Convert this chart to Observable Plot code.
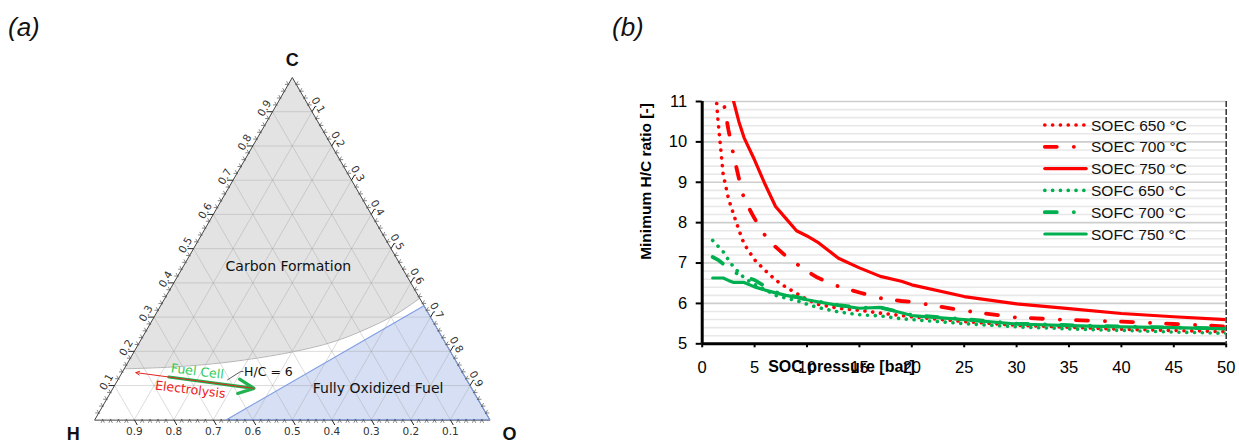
<!DOCTYPE html>
<html>
<head>
<meta charset="utf-8">
<script src="https://cdn.jsdelivr.net/npm/d3@7"></script>
<script src="https://cdn.jsdelivr.net/npm/@observablehq/plot@0.6"></script>
<style>
  html, body { margin:0; padding:0; background:#fff; }
  #page { position:relative; width:1239px; height:443px; overflow:hidden; background:#fff; }
  .panel { position:absolute; top:0; }
  .tag { position:absolute; font-family:"Liberation Sans", Arial, sans-serif; font-style:italic; font-size:26px; line-height:26px; color:#111; }
  #legend { position:absolute; left:1040px; top:110px; }
</style>
</head>
<body>
<div id="page">
  <div class="tag" style="left:8px; top:14px;">(a)</div>
  <div class="tag" style="left:612px; top:14px;">(b)</div>
  <div id="panelA" class="panel" style="left:0px;"></div>
  <div id="panelB" class="panel" style="left:600px;"></div>
  <div id="legend"></div>
</div>
<script>
// ================= DATA: panel (b) =================
const pressure = [1, 1.5, 2, 2.5, 3, 3.5, 4, 5, 6, 7, 8, 9, 10, 11, 13, 15, 17, 19, 20, 25, 30, 35, 40, 45, 50];
const soec650 = [12.3, 10.55, 9.2, 8.6, 8.2, 7.82, 7.47, 7.08, 6.82, 6.58, 6.4, 6.25, 6.1, 5.98, 5.88, 5.83, 5.76, 5.7, 5.67, 5.55, 5.46, 5.41, 5.36, 5.33, 5.3];
const soec700 = [13.8, 12.3, 11.05, 10.3, 9.66, 9.1, 8.58, 8.1, 7.68, 7.4, 7.17, 6.98, 6.8, 6.64, 6.42, 6.27, 6.13, 6.06, 6.04, 5.82, 5.65, 5.59, 5.55, 5.49, 5.43];
const soec750 = [16, 14.5, 13, 11.9, 11.0, 10.5, 10.1, 9.55, 8.95, 8.4, 8.1, 7.8, 7.67, 7.52, 7.12, 6.88, 6.67, 6.55, 6.46, 6.17, 5.99, 5.87, 5.75, 5.67, 5.6];
const sofc650 = [7.56, 7.42, 7.28, 7.08, 6.9, 6.77, 6.63, 6.47, 6.34, 6.2, 6.13, 6.07, 5.98, 5.9, 5.79, 5.72, 5.69, 5.62, 5.6, 5.5, 5.42, 5.37, 5.33, 5.29, 5.26];
const sofc700 = [7.15, 7.08, 6.98, 6.88, 6.78, 6.72, 6.66, 6.58, 6.42, 6.28, 6.21, 6.16, 6.1, 6.05, 5.96, 5.89, 5.9, 5.78, 5.71, 5.61, 5.5, 5.46, 5.43, 5.4, 5.38];
const sofc750 = [6.63, 6.63, 6.63, 6.57, 6.52, 6.52, 6.52, 6.41, 6.33, 6.26, 6.2, 6.15, 6.09, 6.04, 5.95, 5.88, 5.9, 5.77, 5.7, 5.6, 5.49, 5.45, 5.42, 5.4, 5.37];
const seriesNames = ["SOEC 650 °C", "SOEC 700 °C", "SOEC 750 °C", "SOFC 650 °C", "SOFC 700 °C", "SOFC 750 °C"];
const seriesValues = [soec650, soec700, soec750, sofc650, sofc700, sofc750];
const yTicks = [5, 6, 7, 8, 9, 10, 11];
const xTicks = [0, 5, 10, 15, 20, 25, 30, 35, 40, 45, 50];
const xTitle = "SOC pressure [bar]";
const yTitle = "Minimum H/C ratio [-]";

// ================= DATA: panel (a) =================
const ternaryTicks = [0.1, 0.2, 0.3, 0.4, 0.5, 0.6, 0.7, 0.8, 0.9];
const carbonBoundaryO = [0.0, 0.115, 0.25, 0.4, 0.49, 0.554, 0.61, 0.645];
const carbonBoundaryC = [0.149, 0.154, 0.168, 0.198, 0.228, 0.265, 0.31, 0.355];
const oxidizedH = [2/3, 0, 0];
const oxidizedC = [0, 1/3, 0];
const oxidizedO = [1/3, 2/3, 1];
const hcRatio = 6;
const fuelCellO = [0.125, 0.357];
const electrolysisO = [0.357, 0.035];
const cornerNames = ["H", "C", "O"];

// ================= styles =================
const colorOf = n => n.startsWith("SOEC") ? "#ff0000" : "#00b050";
const dashOf = n => n.includes("650") ? "0.1 7.7" : n.includes("700") ? "12 17 0.1 16" : undefined;
const widthOf = n => n.includes("650") ? 3.6 : n.includes("700") ? 3.8 : 3.2;

// ================= PANEL (b) =================
const rows = seriesNames.flatMap((name, i) => pressure.map((p, j) => ({series: name, p, r: seriesValues[i][j]})));
const minorY = d3.range(52, 110, 2).map(v => v / 10).filter(v => Math.abs(v - Math.round(v)) > 1e-6);

const plotB = Plot.plot({
  width: 639, height: 443,
  marginLeft: 101.7, marginRight: 13.3, marginTop: 101, marginBottom: 99.7,
  x: {domain: [0, 50]},
  y: {domain: [5, 11]},
  style: {fontFamily: "Liberation Sans, Arial, sans-serif", fontSize: "16.5px", color: "#000", background: "transparent", overflow: "visible"},
  marks: [
    Plot.ruleY(minorY, {stroke: "#e8e8e8", strokeWidth: 1.6}),
    Plot.ruleY(yTicks.filter(v => v > 5), {stroke: "#cdcdcd", strokeWidth: 1.6}),
    Plot.ruleX([50], {stroke: "#333", strokeWidth: 1.5, strokeDasharray: "6 2"}),
    ...seriesNames.map(name => Plot.line(rows.filter(d => d.series === name), {
      x: "p", y: "r", stroke: colorOf(name), strokeWidth: widthOf(name),
      strokeDasharray: dashOf(name), strokeLinecap: "round", strokeLinejoin: "round", clip: true
    })),
    Plot.axisY({ticks: yTicks, tickFormat: d3.format("d"), tickSize: 6, tickPadding: 9, strokeWidth: 2, label: null}),
    Plot.axisX({ticks: xTicks, tickFormat: d3.format("d"), tickSize: 4, tickPadding: 13, strokeWidth: 2, label: null}),
    Plot.ruleX([0], {stroke: "#000", strokeWidth: 3}),
    Plot.ruleY([5], {stroke: "#000", strokeWidth: 3}),
    Plot.text([xTitle], {text: d => d, frameAnchor: "bottom-left", dx: 139.3, dy: 28.5, textAnchor: "middle", fontWeight: "bold", fontSize: 16}),
    Plot.text([yTitle], {text: d => d, frameAnchor: "top-left", dx: -62.7, dy: 80, rotate: -90, textAnchor: "middle", fontWeight: "bold", fontSize: 15.5})
  ]
});
document.getElementById("panelB").appendChild(plotB);

// legend (overlay inside the plot frame, top right)
const leg = d3.select("#legend").append("svg").attr("width", 180).attr("height", 140);
seriesNames.forEach((name, i) => {
  const y = 15 + i * 21.8;
  leg.append("line").attr("x1", 4.8).attr("x2", 46.2).attr("y1", y).attr("y2", y)
    .attr("stroke", colorOf(name)).attr("stroke-width", widthOf(name))
    .attr("stroke-dasharray", dashOf(name) || null).attr("stroke-linecap", "round");
  leg.append("text").attr("x", 51).attr("y", y).attr("dy", "0.36em").text(name)
    .style("font-family", "Liberation Sans, Arial, sans-serif").style("font-size", "15.5px").style("fill", "#111");
});

// ================= PANEL (a) : ternary =================
const X0 = 94.3, Y0 = 419.3, W = 395, HH = 342.3;
const tp = (H, C, O) => ({ux: O + C / 2, uy: C});
const shift = (p, dx, dy) => ({ux: p.ux + dx / W, uy: p.uy - dy / HH});
const onHC = O => { const C = (1 - O) / (hcRatio + 1); return tp(hcRatio * C, C, O); };

const carbonPts = carbonBoundaryO.map((O, i) => tp(1 - O - carbonBoundaryC[i], carbonBoundaryC[i], O));
const carbonPoly = [...carbonPts, tp(0, 1, 0)];
const oxidizedPoly = oxidizedH.map((h, i) => tp(h, oxidizedC[i], oxidizedO[i]));
const corners = [tp(1, 0, 0), tp(0, 1, 0), tp(0, 0, 1)];

const grid = ternaryTicks.flatMap(v => [
  [tp(1 - v, v, 0), tp(0, v, 1 - v)],
  [tp(v, 1 - v, 0), tp(v, 0, 1 - v)],
  [tp(1 - v, 0, v), tp(0, 1 - v, v)]
]).map(([a, b]) => ({x1: a.ux, y1: a.uy, x2: b.ux, y2: b.uy}));

const edges = [
  {point: t => tp(t, 0, 1 - t), minor: [[0.5, 0.866], [-0.5, 0.866]], major: [0.5, 0.866], lab: [0, 12], rot: 0},
  {point: t => tp(1 - t, t, 0), minor: [[-1, 0], [-0.5, -0.866]], major: [-1, 0], lab: [-8, -3.5], rot: -60},
  {point: t => tp(0, 1 - t, t), minor: [[1, 0], [0.5, -0.866]], major: [0.5, -0.866], lab: [6, -6.5], rot: 60}
];
const minorT = d3.range(1, 50).map(i => i / 50).filter(t => Math.abs(t * 10 - Math.round(t * 10)) > 1e-6);
const seg = (p, d, a, b) => { const s = shift(p, d[0] * a, d[1] * a), e = shift(p, d[0] * b, d[1] * b); return {x1: s.ux, y1: s.uy, x2: e.ux, y2: e.uy}; };
const minorTicks = edges.flatMap(e => minorT.flatMap(t => e.minor.map(d => seg(e.point(t), d, -1, 3.5))));
const majorTicks = edges.flatMap(e => ternaryTicks.map(t => seg(e.point(t), e.major, 0, 6)));
const fmt = d3.format(".1f");

const fc = [onHC(fuelCellO[0]), onHC(fuelCellO[1])];
const el = [onHC(electrolysisO[0]), onHC(electrolysisO[1])];
const leader = [shift(onHC(0.285), 0, -5), tp(1 - 0.141 - 0.2985, 0.141, 0.2985), tp(1 - 0.141 - 0.305, 0.141, 0.305)];
const cornerOffsets = [[-21.6, 14.5], [0, -17.7], [19.7, 14.5]];

const dejavu = "DejaVu Sans, Verdana, sans-serif";
const plotA = Plot.plot({
  width: 600, height: 443, margin: 0,
  x: {domain: [0, 1], range: [X0, X0 + W], axis: null},
  y: {domain: [0, 1], range: [Y0, Y0 - HH], axis: null},
  style: {fontFamily: dejavu, background: "transparent", overflow: "visible"},
  marks: [
    Plot.line(carbonPoly, {x: "ux", y: "uy", fill: "#e3e3e3", stroke: "none", curve: "linear-closed"}),
    Plot.line(oxidizedPoly, {x: "ux", y: "uy", fill: "#d6dff3", stroke: "none", curve: "linear-closed"}),
    Plot.link(grid, {x1: "x1", y1: "y1", x2: "x2", y2: "y2", stroke: "#9a9a9a", strokeOpacity: 0.45, strokeWidth: 0.8}),
    Plot.line(carbonPts, {x: "ux", y: "uy", stroke: "#b5b5b5", strokeWidth: 1, curve: "catmull-rom"}),
    Plot.line(corners, {x: "ux", y: "uy", stroke: "#444", strokeWidth: 1, curve: "linear-closed"}),
    Plot.line(oxidizedPoly, {x: "ux", y: "uy", stroke: "#7f9de3", strokeWidth: 1.1, curve: "linear-closed"}),
    Plot.link(minorTicks, {x1: "x1", y1: "y1", x2: "x2", y2: "y2", stroke: "#555", strokeWidth: 0.7}),
    Plot.link(majorTicks, {x1: "x1", y1: "y1", x2: "x2", y2: "y2", stroke: "#222", strokeWidth: 1}),
    ...edges.map(e => Plot.text(ternaryTicks.map(t => ({...e.point(t), label: fmt(t)})), {
      x: "ux", y: "uy", text: "label", dx: e.lab[0], dy: e.lab[1], rotate: e.rot,
      fontSize: 10.5, fill: "#333", fontFamily: dejavu
    })),
    ...corners.map((c, i) => Plot.text([{...c, name: cornerNames[i]}], {
      x: "ux", y: "uy", text: "name", dx: cornerOffsets[i][0], dy: cornerOffsets[i][1],
      fontSize: 18, fontWeight: "bold", fontFamily: "Liberation Sans, Arial, sans-serif", fill: "#111"
    })),
    Plot.arrow([{a: fc[0], b: fc[1]}], {x1: d => d.a.ux, y1: d => d.a.uy, x2: d => d.b.ux, y2: d => d.b.uy, stroke: "#1fb24f", strokeWidth: 3.2, headLength: 8, headAngle: 50}),
    Plot.arrow([{a: el[0], b: el[1]}], {x1: d => d.a.ux, y1: d => d.a.uy, x2: d => d.b.ux, y2: d => d.b.uy, stroke: "#e3261f", strokeWidth: 1, headLength: 6, headAngle: 55}),
    Plot.line(leader, {x: "ux", y: "uy", stroke: "#333", strokeWidth: 0.8}),
    Plot.text([{...tp(1 - 0.141 - 0.3075, 0.141, 0.3075), t: "H/C = 6"}], {x: "ux", y: "uy", text: "t", textAnchor: "start", fontSize: 12.5, fill: "#111"}),
    Plot.text([{...tp(1 - 0.141 - 0.189, 0.141, 0.189), t: "Fuel Cell"}], {x: "ux", y: "uy", text: "t", rotate: 7, fontSize: 12.5, fill: "#2ecc5a"}),
    Plot.text([{...tp(1 - 0.0877 - 0.198, 0.0877, 0.198), t: "Electrolysis"}], {x: "ux", y: "uy", text: "t", rotate: 7, fontSize: 12.5, fill: "#ee2020"}),
    Plot.text([{...tp(1 - 0.448 - 0.266, 0.448, 0.266), t: "Carbon Formation"}], {x: "ux", y: "uy", text: "t", fontSize: 14, fill: "#111"}),
    Plot.text([{...tp(1 - 0.0924 - 0.671, 0.0924, 0.671), t: "Fully Oxidized Fuel"}], {x: "ux", y: "uy", text: "t", fontSize: 14, fill: "#111"})
  ]
});
document.getElementById("panelA").appendChild(plotA);
</script>
</body>
</html>
